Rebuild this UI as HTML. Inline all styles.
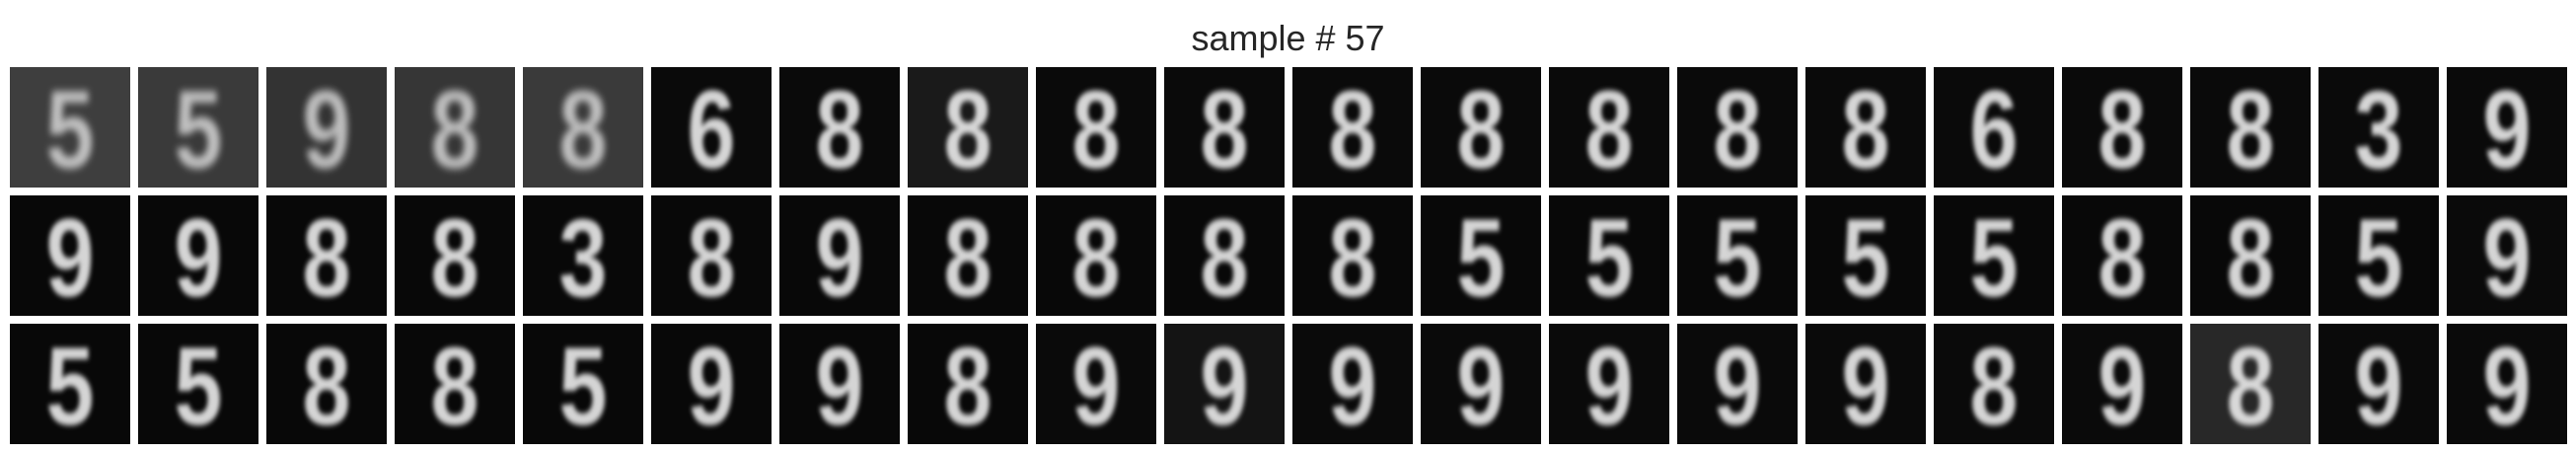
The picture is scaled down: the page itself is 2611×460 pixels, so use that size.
<!DOCTYPE html>
<html><head><meta charset="utf-8">
<style>
html,body{margin:0;padding:0;background:#fff;width:2611px;height:460px;overflow:hidden}
#title{position:absolute;left:0;width:2611px;top:18px;text-align:center;font:36px "Liberation Sans",sans-serif;color:#262626}
.tile{position:absolute;width:122px;height:122px;overflow:hidden}
.dig{position:absolute;left:0;top:0;width:122px;height:122px;text-align:center;line-height:122px;font:bold 110px "Liberation Sans",sans-serif;color:#ececec;filter:blur(2.5px);transform:scale(0.8,1.02)}
</style></head><body>
<div id="title">sample # 57</div>
<div id="grid"></div>
<script>
const rowDigits = [
  ["5","5","9","8","8","6","8","8","8","8","8","8","8","8","8","6","8","8","3","9"],
  ["9","9","8","8","3","8","9","8","8","8","8","5","5","5","5","5","8","8","5","9"],
  ["5","5","8","8","5","9","9","8","9","9","9","9","9","9","9","8","9","8","9","9"]
];
const rowBg = [
  ["#3e3e3e","#3a3a3a","#333","#363636","#3a3a3a","#0a0a0a","#0a0a0a","#1a1a1a","#0a0a0a","#0a0a0a","#0a0a0a","#0a0a0a","#0a0a0a","#0a0a0a","#0a0a0a","#0a0a0a","#0a0a0a","#0a0a0a","#0a0a0a","#0a0a0a"],
  ["#080808","#080808","#080808","#080808","#080808","#080808","#080808","#080808","#080808","#080808","#080808","#080808","#080808","#080808","#080808","#080808","#080808","#080808","#080808","#0a0a0a"],
  ["#080808","#080808","#080808","#080808","#080808","#080808","#080808","#080808","#0a0a0a","#141414","#0a0a0a","#0a0a0a","#0a0a0a","#0a0a0a","#0a0a0a","#0a0a0a","#0a0a0a","#282828","#0a0a0a","#0a0a0a"]
];
const rowOpacity = [0.9, 0.9, 0.9];
const grid = document.getElementById('grid');
function xPos(c){return 10 + 130*c;}
function yPos(r){return 68 + 130*r;}
rowDigits.forEach((row, r) => {
  row.forEach((d, c) => {
    const t = document.createElement('div');
    t.className = 'tile';
    
    
    t.style.left = xPos(c) + 'px';
    t.style.top = yPos(r) + 'px';
    t.style.background = rowBg[r][c];
    const g = document.createElement('div');
    g.className = 'dig';
    
    
    g.textContent = d;
    g.style.opacity = (r === 0 && c < 5) ? 0.75 : rowOpacity[r];
    if (r === 0 && c < 5) { g.style.filter = 'blur(4px)'; }
    t.appendChild(g);
    grid.appendChild(t);
  });
});
</script>
</body></html>
